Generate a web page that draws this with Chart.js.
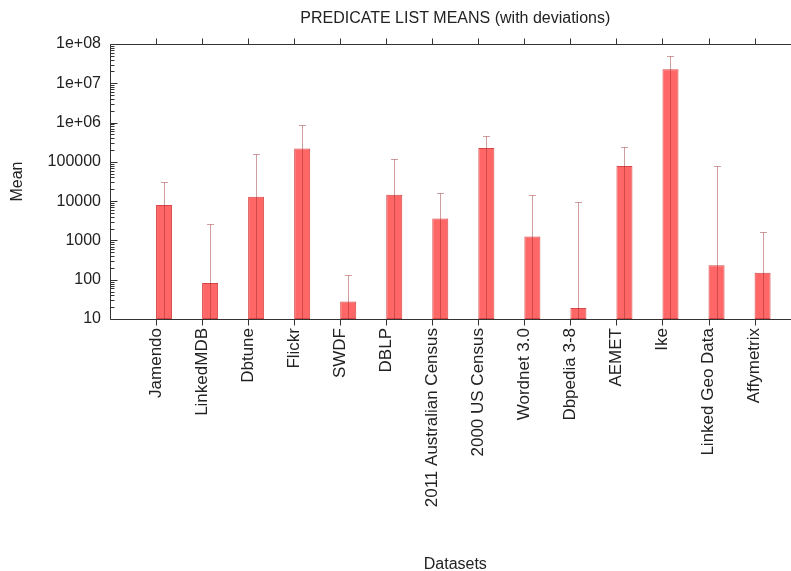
<!DOCTYPE html>
<html>
<head>
<meta charset="utf-8">
<script src="https://cdn.jsdelivr.net/npm/chart.js@4/dist/chart.umd.min.js"></script>
<style>
  html, body { margin: 0; padding: 0; background: #fff; overflow: hidden; }
  #wrap { width: 830px; height: 571px; }
</style>
</head>
<body>
<div id="wrap"><canvas id="c" width="830" height="571"></canvas></div>
<script>
// ---- data ----
const categories = ["Jamendo", "LinkedMDB", "Dbtune", "Flickr", "SWDF", "DBLP",
  "2011 Australian Census", "2000 US Census", "Wordnet 3.0", "Dbpedia 3-8",
  "AEMET", "Ike", "Linked Geo Data", "Affymetrix"];
const means = [8000, 82, 13000, 220000, 28, 14500, 3600, 225000, 1250, 19,
  78000, 22600000, 235, 150];
const deviations = [23000, 2500, 143000, 630000, 105, 103500, 12400, 225000,
  12750, 9480, 162000, 27400000, 77765, 1490];
const yTickValues = [10, 100, 1000, 10000, 100000, 1000000, 10000000, 100000000];
const chartTitle = "PREDICATE LIST MEANS (with deviations)";
const xTitle = "Datasets";
const yTitle = "Mean";

// axis labels padded by one empty slot at each end (gnuplot-style range)
const labels = [""].concat(categories, [""]);
const barData = [null].concat(means, [null]);
const devData = [null].concat(deviations, [null]);
const spacerData = labels.map(() => null);

const FONT = "'Liberation Sans', Arial, Helvetica, sans-serif";
const TEXT = "#222";
const AXIS = "#333";

function fmtTick(v) {
  const k = Math.round(Math.log10(v));
  if (k >= 6) return "1e+" + (k < 10 ? "0" + k : k);
  return String(v);
}

const errorBars = {
  id: "errorBars",
  afterDatasetsDraw(chart) {
    const { ctx, chartArea: a, scales: { y } } = chart;
    const meta = chart.getDatasetMeta(1);
    ctx.save();
    ctx.beginPath();
    ctx.rect(a.left, a.top, a.right - a.left, a.bottom - a.top);
    ctx.clip();
    ctx.strokeStyle = "rgba(150,40,40,0.45)";
    ctx.lineWidth = 1;
    meta.data.forEach((bar, i) => {
      if (barData[i] == null) return;
      const top = y.getPixelForValue(barData[i] + devData[i]);
      const lo = Math.max(barData[i] - devData[i], 1e-3);
      const bot = Math.min(y.getPixelForValue(lo), a.bottom + 5);
      const cx = Math.round(bar.x) + 0.5;
      const ty = Math.round(top) + 0.5;
      ctx.beginPath();
      ctx.moveTo(cx, bot);
      ctx.lineTo(cx, ty);
      ctx.moveTo(cx - 3.5, ty);
      ctx.lineTo(cx + 3.5, ty);
      ctx.stroke();
    });
    ctx.restore();
  },
  afterDraw(chart) {
    const { ctx, chartArea: a, scales: { x, y } } = chart;
    const L = Math.round(a.left) + 0.5, R = Math.round(a.right) + 0.5;
    const T = Math.round(a.top) + 0.5, B = Math.round(a.bottom) + 0.5;
    ctx.save();
    ctx.strokeStyle = AXIS;
    ctx.lineWidth = 1;
    ctx.beginPath();
    ctx.rect(L, T, R - L, B - T);
    // y ticks (inward, both sides)
    yTickValues.forEach(v => {
      const py = Math.round(y.getPixelForValue(v)) + 0.5;
      ctx.moveTo(L, py); ctx.lineTo(L + 7, py);
      ctx.moveTo(R, py); ctx.lineTo(R - 7, py);
    });
    for (let i = 0; i < yTickValues.length - 1; i++) {
      for (let m = 2; m <= 9; m++) {
        const py = Math.round(y.getPixelForValue(yTickValues[i] * m)) + 0.5;
        ctx.moveTo(L, py); ctx.lineTo(L + 4, py);
        ctx.moveTo(R, py); ctx.lineTo(R - 4, py);
      }
    }
    // x ticks (outward, bottom and top)
    categories.forEach((c, i) => {
      const px = Math.round(x.getPixelForValue(i + 1)) + 0.5;
      ctx.moveTo(px, B); ctx.lineTo(px, B + 6);
      ctx.moveTo(px, T); ctx.lineTo(px, T - 6);
    });
    ctx.stroke();
    ctx.restore();
  }
};

new Chart(document.getElementById("c"), {
  type: "bar",
  data: {
    labels: labels,
    datasets: [
      { label: "spacer", data: spacerData, backgroundColor: "rgba(0,0,0,0)", borderWidth: 0 },
      {
        label: "Mean",
        data: barData,
        backgroundColor: "rgb(255,102,102)",
        borderColor: "rgb(215,70,70)",
        borderWidth: 1,
        borderSkipped: false
      }
    ]
  },
  options: {
    responsive: false,
    animation: false,
    devicePixelRatio: 1,
    categoryPercentage: 0.696,
    barPercentage: 1,
    layout: { padding: { left: 0, right: 29, top: 0, bottom: 0 } },
    plugins: {
      legend: { display: false },
      tooltip: { enabled: false },
      title: {
        display: true,
        text: chartTitle,
        fullSize: false,
        color: TEXT,
        font: { family: FONT, size: 16, weight: "normal" },
        padding: { top: 9.4, bottom: 15.4 }
      }
    },
    scales: {
      x: {
        type: "category",
        offset: false,
        grid: { display: false, drawTicks: false, offset: false },
        border: { display: false },
        ticks: {
          autoSkip: false,
          maxRotation: 90,
          minRotation: 90,
          padding: 9,
          color: TEXT,
          font: { family: FONT, size: 17 }
        },
        title: {
          display: true,
          text: xTitle,
          color: TEXT,
          font: { family: FONT, size: 16 },
          padding: { top: 0, bottom: -3 }
        },
        afterFit(scale) { scale.height = 252; }
      },
      y: {
        type: "logarithmic",
        min: 10,
        max: 100000000,
        grid: { display: false, drawTicks: false },
        border: { display: false },
        afterBuildTicks(scale) { scale.ticks = yTickValues.map(v => ({ value: v, major: true })); },
        ticks: {
          padding: 9,
          color: TEXT,
          font: { family: FONT, size: 16 },
          callback: (v) => fmtTick(v)
        },
        title: {
          display: true,
          text: yTitle,
          color: TEXT,
          font: { family: FONT, size: 16 },
          padding: { top: 8, bottom: 0 }
        },
        afterFit(scale) { scale.width = 110; }
      }
    }
  },
  plugins: [errorBars]
});
</script>
</body>
</html>
